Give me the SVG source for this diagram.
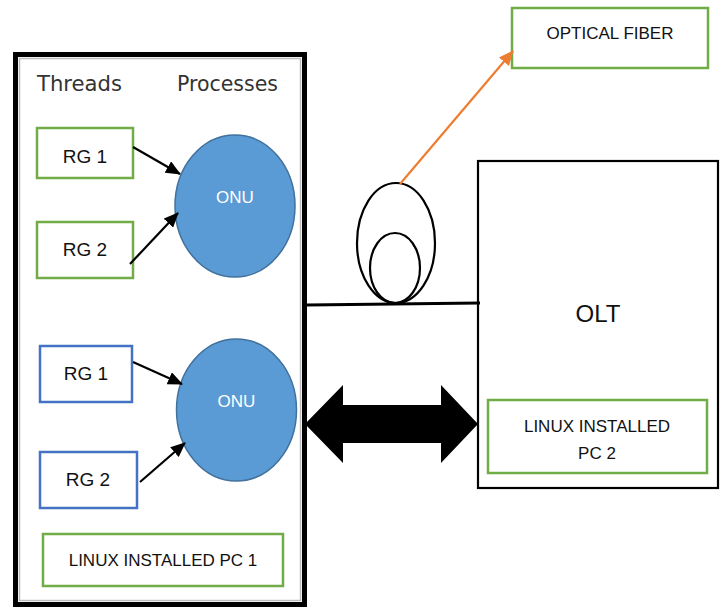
<svg xmlns="http://www.w3.org/2000/svg" width="722" height="608" viewBox="0 0 722 608">
<defs>
<marker id="ah" markerUnits="userSpaceOnUse" markerWidth="15" markerHeight="13" refX="14" refY="6.5" orient="auto"><path d="M0,0 L15,6.5 L0,13 z" fill="#000"/></marker>
<marker id="ahO" markerUnits="userSpaceOnUse" markerWidth="15" markerHeight="13" refX="14" refY="6.5" orient="auto"><path d="M0,0 L15,6.5 L0,13 z" fill="#ed7d31"/></marker>
</defs>
<style>
.t{font-family:"Liberation Sans",Arial,sans-serif;fill:#111;text-anchor:middle}
.h{font-family:"DejaVu Sans Condensed","DejaVu Sans",sans-serif;fill:#333;font-size:22px}
.g{fill:#fff;stroke:#70ad47;stroke-width:2.5}
.b{fill:#fff;stroke:#4472c4;stroke-width:2.5}
.onu{fill:#5b9bd5;stroke:#41719c;stroke-width:1.5}
.ot{font-family:"Liberation Sans",Arial,sans-serif;fill:#fff;font-size:17px;text-anchor:middle}
.c{stroke:#000;stroke-width:2.2;fill:none}
</style>
<rect width="722" height="608" fill="#fff"/>
<g id="pc1">
<rect x="15.5" y="54.5" width="289" height="550" fill="#fff" stroke="#000" stroke-width="5"/>
<rect x="19.5" y="58.5" width="281" height="542" fill="none" stroke="#bdbdbd" stroke-width="1.5"/>
<text class="h" x="37" y="91" textLength="85" lengthAdjust="spacingAndGlyphs">Threads</text>
<text class="h" x="177" y="91" textLength="101" lengthAdjust="spacingAndGlyphs">Processes</text>
</g>
<g id="rg1a"><rect class="g" x="37" y="128" width="96" height="50"/><text class="t" x="85" y="163" font-size="19">RG 1</text></g>
<g id="rg2a"><rect class="g" x="37" y="222" width="96" height="56"/><text class="t" x="85" y="256" font-size="19">RG 2</text></g>
<g id="onu1"><ellipse class="onu" cx="235" cy="206" rx="60" ry="71"/><text class="ot" x="235" y="203">ONU</text></g>
<g id="rg1b"><rect class="b" x="40" y="346" width="92" height="56"/><text class="t" x="86" y="380" font-size="19">RG 1</text></g>
<g id="rg2b"><rect class="b" x="40" y="452" width="97" height="56"/><text class="t" x="88" y="486" font-size="19">RG 2</text></g>
<g id="onu2"><ellipse class="onu" cx="236.5" cy="410" rx="60" ry="71"/><text class="ot" x="236.5" y="407">ONU</text></g>
<g id="linuxpc1"><rect class="g" x="43" y="534" width="240" height="52"/><text class="t" x="163" y="566" font-size="17">LINUX INSTALLED PC 1</text></g>
<g id="opticalfiber"><rect class="g" x="512" y="8" width="196" height="60"/><text class="t" x="610" y="39" font-size="17">OPTICAL FIBER</text></g>
<g id="coil">
<ellipse cx="396" cy="243" rx="39" ry="60" fill="none" stroke="#000" stroke-width="2.2"/>
<ellipse cx="395" cy="268" rx="25" ry="35" fill="none" stroke="#000" stroke-width="2.2"/>
</g>
<g id="olt">
<rect x="478" y="161" width="240" height="327" fill="#fff" stroke="#000" stroke-width="2.2"/>
<text class="t" x="598" y="322" font-size="24">OLT</text>
</g>
<g id="linuxpc2"><rect class="g" x="488" y="400" width="219" height="73"/><text class="t" x="597" y="432" font-size="17">LINUX INSTALLED</text><text class="t" x="597" y="459" font-size="17">PC 2</text></g>
<g id="connectors">
<line class="c" x1="133" y1="147" x2="180" y2="174" marker-end="url(#ah)"/>
<line class="c" x1="130" y1="264" x2="178" y2="213" marker-end="url(#ah)"/>
<line class="c" x1="133" y1="362" x2="182" y2="384" marker-end="url(#ah)"/>
<line class="c" x1="140" y1="482" x2="185" y2="443" marker-end="url(#ah)"/>
<line x1="400" y1="184" x2="513" y2="51" stroke="#ed7d31" stroke-width="2.2" marker-end="url(#ahO)"/>
<line x1="307" y1="305" x2="480" y2="303" stroke="#000" stroke-width="3"/>
<polygon points="305,424 343,385 343,405 441,405 441,385 478,424 441,463 441,443 343,443 343,463" fill="#000"/>
</g>
</svg>
